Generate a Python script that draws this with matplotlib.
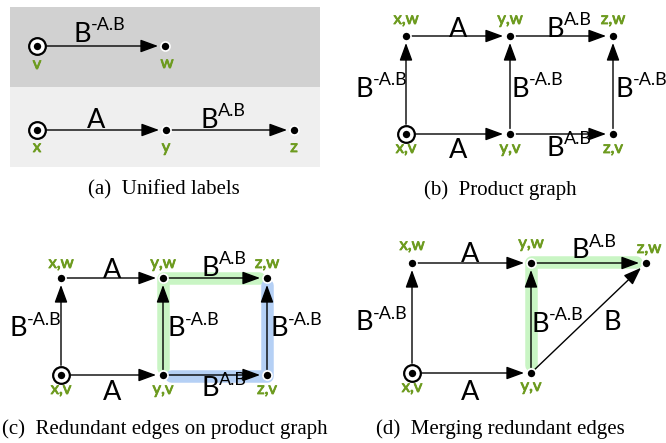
import matplotlib.pyplot as plt
import matplotlib.patheffects as pe
from matplotlib.patches import Rectangle

# config
W, H = 666, 443
DPI = 100
GREEN_TXT = '#6d9b1f'
HL_GREEN = '#c9f5c4'
HL_BLUE = '#b5d0f5'
FONT = 'Lato'
SERIF = 'Liberation Serif'

# node positions (pixels, y down)
a_nodes = {'v': (37, 46), 'w': (165, 46), 'x': (37, 130), 'y': (166, 130), 'z': (294, 130)}
b_nodes = {'x,w': (406, 36), 'y,w': (510, 36), 'z,w': (613, 36),
           'x,v': (406, 134), 'y,v': (510, 134), 'z,v': (613, 134)}
c_nodes = {'x,w': (61, 278), 'y,w': (163, 278), 'z,w': (267, 278),
           'x,v': (61, 375), 'y,v': (163, 375), 'z,v': (267, 375)}
d_nodes = {'x,w': (412, 263), 'y,w': (531, 263), 'z,w': (646, 263),
           'x,v': (412, 373), 'y,v': (531, 373)}

start_nodes = [(a_nodes, 'v'), (a_nodes, 'x'), (b_nodes, 'x,v'), (c_nodes, 'x,v'), (d_nodes, 'x,v')]

# node label positions
a_node_lbl = {'v': (37, 64), 'w': (167, 63), 'x': (37, 147), 'y': (166, 147), 'z': (294, 147)}
b_node_lbl = {'x,w': (406, 19), 'y,w': (510, 19), 'z,w': (613, 19),
              'x,v': (406, 148), 'y,v': (510, 148), 'z,v': (613, 148)}
c_node_lbl = {'x,w': (61, 263), 'y,w': (163, 263), 'z,w': (267, 263),
              'x,v': (61, 389), 'y,v': (163, 389), 'z,v': (267, 389)}
d_node_lbl = {'x,w': (412, 245), 'y,w': (531, 243), 'z,w': (649, 248),
              'x,v': (412, 387), 'y,v': (531, 386)}

# edges (source, target)
a_edges = [('v', 'w'), ('x', 'y'), ('y', 'z')]
grid_edges = [('x,v', 'x,w'), ('x,w', 'y,w'), ('y,w', 'z,w'), ('x,v', 'y,v'),
              ('y,v', 'y,w'), ('y,v', 'z,v'), ('z,v', 'z,w')]
d_edges = [('x,v', 'x,w'), ('x,w', 'y,w'), ('y,w', 'z,w'), ('x,v', 'y,v'),
           ('y,v', 'y,w'), ('y,v', 'z,w')]

# edge labels: (x of base letter, y, base, superscript)
a_edge_lbl = [(82, 34, 'B', '-A.B'), (96, 120, 'A', None), (209, 120, 'B', 'A.B')]
b_edge_lbl = [(458, 29, 'A', None), (555, 29, 'B', 'A.B'), (364, 89, 'B', '-A.B'),
              (520, 89, 'B', '-A.B'), (624, 89, 'B', '-A.B'),
              (458, 151, 'A', None), (555, 148, 'B', 'A.B')]
c_edge_lbl = [(112, 270, 'A', None), (210, 268, 'B', 'A.B'), (18, 329, 'B', '-A.B'),
              (176, 329, 'B', '-A.B'), (279, 329, 'B', '-A.B'),
              (112, 393, 'A', None), (210, 389, 'B', 'A.B')]
d_edge_lbl = [(470, 254, 'A', None), (580, 251, 'B', 'A.B'), (364, 323, 'B', '-A.B'),
              (540, 324, 'B', '-A.B'), (612, 322, 'B', None), (470, 393, 'A', None)]

# highlighted paths
c_green = [(163, 368), (163, 278), (259, 278)]
c_blue = [(267, 285), (267, 376), (171, 376)]
d_green = [(531, 365), (531, 262), (636, 262)]

captions = [(164, 190, '(a)  Unified labels'), (500, 190, '(b)  Product graph'),
            (165, 429, '(c)  Redundant edges on product graph'),
            (500, 429, '(d)  Merging redundant edges')]

fig = plt.figure(figsize=(W / DPI, H / DPI), dpi=DPI)
ax = fig.add_axes([0, 0, 1, 1])
ax.set_xlim(0, W)
ax.set_ylim(H, 0)
ax.axis('off')

# background bands of panel (a)
ax.add_patch(Rectangle((10, 7), 310, 80, facecolor='#d1d1d1', edgecolor='none', zorder=0))
ax.add_patch(Rectangle((10, 87), 310, 80, facecolor='#efefef', edgecolor='none', zorder=0))


def highlight(path, color):
    xs, ys = zip(*path)
    ax.plot(xs, ys, color=color, lw=9, solid_joinstyle='round',
            solid_capstyle='round', zorder=1)


highlight(c_green, HL_GREEN)
highlight(c_blue, HL_BLUE)
highlight(d_green, HL_GREEN)


def draw_edges(nodes, edges, starts):
    for s, t in edges:
        ax.annotate('', xy=nodes[t], xytext=nodes[s],
                    arrowprops=dict(arrowstyle='-|>,head_length=0.6,head_width=0.22',
                                    mutation_scale=18, color='black', lw=1.0,
                                    shrinkA=7 if s in starts else 4, shrinkB=5),
                    zorder=2)


def draw_nodes(nodes, starts):
    for name, (x, y) in nodes.items():
        if name in starts:
            ax.plot(x, y, 'o', ms=12, mfc='white', mec='black', mew=1.6, zorder=3)
        ax.plot(x, y, 'o', ms=6.5, mfc='black', mec='white', mew=1.2, zorder=4)


# thicken the green labels a little (semi-bold look)
semibold = [pe.withStroke(linewidth=0.6, foreground=GREEN_TXT)]


def draw_node_labels(lbls):
    for name, (x, y) in lbls.items():
        ax.text(x, y, name, color=GREEN_TXT, fontsize=12, family=FONT,
                ha='center', va='center', zorder=5, path_effects=semibold)


def draw_edge_labels(lbls):
    for x, y, base, sup in lbls:
        t = ax.text(x, y, base, fontsize=19.5, family=FONT, ha='center', va='center', zorder=5)
        if sup:
            ax.annotate(sup, xy=(1.0, 0.55), xycoords=t, fontsize=13, family=FONT,
                        ha='left', va='bottom', zorder=5)


for nodes, edges, lbl, elbl in [(a_nodes, a_edges, a_node_lbl, a_edge_lbl),
                                 (b_nodes, grid_edges, b_node_lbl, b_edge_lbl),
                                 (c_nodes, grid_edges, c_node_lbl, c_edge_lbl),
                                 (d_nodes, d_edges, d_node_lbl, d_edge_lbl)]:
    starts = [n for nd, n in start_nodes if nd is nodes]
    draw_edges(nodes, edges, starts)
    draw_nodes(nodes, starts)
    draw_node_labels(lbl)
    draw_edge_labels(elbl)

for x, y, txt in captions:
    ax.text(x, y, txt, fontsize=15, family=SERIF, ha='center', va='center')

fig.savefig('out.png', dpi=DPI, facecolor='white')
